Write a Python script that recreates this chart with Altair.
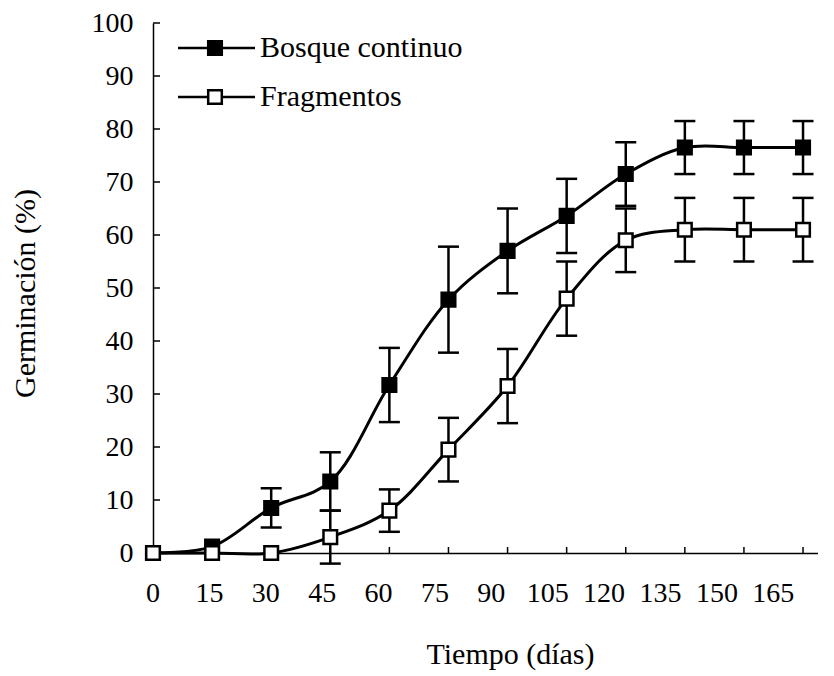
import altair as alt
import pandas as pd

dias = [0, 15, 30, 45, 60, 75, 90, 105, 120, 135, 150, 165]
bosque = [0, 1.2, 8.5, 13.5, 31.7, 47.8, 57.0, 63.6, 71.5, 76.5, 76.5, 76.5]
bosque_err = [0, 0, 3.7, 5.5, 7.0, 10.0, 8.0, 7.0, 6.0, 5.0, 5.0, 5.0]
frag = [0, 0, 0, 3.0, 8.0, 19.5, 31.5, 48.0, 59.0, 61.0, 61.0, 61.0]
frag_err = [0, 0, 0, 5.0, 4.0, 6.0, 7.0, 7.0, 6.0, 6.0, 6.0, 6.0]
series = ["Bosque continuo", "Fragmentos"]
y_ticks = [0, 10, 20, 30, 40, 50, 60, 70, 80, 90, 100]

rows = []
for name, vals, errs in [(series[0], bosque, bosque_err), (series[1], frag, frag_err)]:
    for d, v, e in zip(dias, vals, errs):
        rows.append({"serie": name, "dia": d, "valor": v, "err": e, "lo": v - e, "hi": v + e})
df = pd.DataFrame(rows)
xt = pd.DataFrame({"t": dias[1:]})
xl = pd.DataFrame({"t": dias, "lab": [str(d) for d in dias]})
yt = pd.DataFrame({"v": y_ticks[1:]})
leg_df = pd.DataFrame({"serie": series, "idx": list(range(len(series)))})

W, H = 665, 530
FONT = "Liberation Serif, Times New Roman, Times, serif"
xs = alt.Scale(domain=[0, 168.8], nice=False, zero=False)
# tick labels in the original are printed slightly narrower than the tick spacing
xs_lab = alt.Scale(domain=[0, 176.9], nice=False, zero=False)
ys = alt.Scale(domain=[0, 100], nice=False)
fill_scale = alt.Scale(domain=series, range=["black", "white"])

xaxis = alt.Axis(
    values=dias, ticks=False, grid=False, labels=False,
    domainColor="black", domainWidth=1.5,
    title="Tiempo (días)", titleFont=FONT, titleFontSize=30, titleFontWeight="normal",
    titleColor="black", titleX=357, titleY=110, titleBaseline="alphabetic", titleAlign="center",
)
yaxis = alt.Axis(
    values=y_ticks, ticks=False, grid=False, labelFont=FONT, labelFontSize=28,
    labelColor="black", labelPadding=20, labelFlush=False, labelOverlap=False,
    domainColor="black", domainWidth=1.5,
    title="Germinación (%)", titleFont=FONT, titleFontSize=30, titleFontWeight="normal",
    titleColor="black", titleX=-128, titleY=270, titleAngle=270,
    titleBaseline="middle", titleAlign="center",
)

base = alt.Chart(df)

line = base.mark_line(interpolate="catmull-rom", color="black", strokeWidth=3).encode(
    x=alt.X("dia:Q", scale=xs, axis=xaxis),
    y=alt.Y("valor:Q", scale=ys, axis=yaxis),
    detail="serie:N",
)

xticks = alt.Chart(xt).mark_rule(color="black", strokeWidth=1.5).encode(
    x=alt.X("t:Q", scale=xs), y=alt.value(H), y2=alt.value(H - 6)
)
yticks = alt.Chart(yt).mark_rule(color="black", strokeWidth=1.5).encode(
    y=alt.Y("v:Q", scale=ys), x=alt.value(0), x2=alt.value(7)
)

eb = base.transform_filter("datum.err > 0")
rule = eb.mark_rule(color="black", strokeWidth=2.5).encode(
    x=alt.X("dia:Q", scale=xs),
    y=alt.Y("lo:Q", scale=ys),
    y2="hi:Q",
)
cap_lo = eb.mark_tick(orient="horizontal", size=21, thickness=2.5, color="black", opacity=1).encode(
    x=alt.X("dia:Q", scale=xs), y=alt.Y("lo:Q", scale=ys)
)
cap_hi = eb.mark_tick(orient="horizontal", size=21, thickness=2.5, color="black", opacity=1).encode(
    x=alt.X("dia:Q", scale=xs), y=alt.Y("hi:Q", scale=ys)
)

points = base.mark_point(shape="square", filled=True, stroke="black", strokeWidth=2.5,
                         opacity=1, size=185).encode(
    x=alt.X("dia:Q", scale=xs),
    y=alt.Y("valor:Q", scale=ys),
    fill=alt.Fill("serie:N", scale=fill_scale, legend=None),
)

main = alt.layer(line, xticks, yticks, rule, cap_lo, cap_hi, points)

# x tick labels
xlabels = alt.Chart(xl).mark_text(align="center", baseline="middle", font=FONT, fontSize=28,
                                  color="black").encode(
    x=alt.X("t:Q", scale=xs_lab, axis=None), y=alt.value(H + 41), text="lab:N"
)

# legend (top-left, inside plot)
leg_y = alt.Y("idx:Q", scale=alt.Scale(domain=[0, 1], range=[25, 74], nice=False, zero=False), axis=None)
leg_base = alt.Chart(leg_df)
leg_line = leg_base.mark_rule(color="black", strokeWidth=2.5).encode(
    y=leg_y, x=alt.value(25), x2=alt.value(102)
)
leg_pt = leg_base.mark_point(shape="square", filled=True, stroke="black", strokeWidth=2.5,
                             opacity=1, size=185).encode(
    y=leg_y, x=alt.value(62), fill=alt.Fill("serie:N", scale=fill_scale, legend=None)
)
leg_txt = leg_base.mark_text(align="left", baseline="middle", font=FONT, fontSize=30,
                             color="black").encode(
    y=leg_y, x=alt.value(107), text="serie:N"
)
legend = alt.layer(leg_line, leg_pt, leg_txt)

chart = alt.layer(main, legend, xlabels).resolve_scale(x="independent", y="independent").properties(
    width=W, height=H,
    autosize=alt.AutoSizeParams(type="none"),
    padding={"left": 145, "top": 15, "right": 0, "bottom": 121},
).configure(background="white").configure_view(stroke=None)

chart.save("out.html", embed_options={"renderer": "svg", "actions": False})
